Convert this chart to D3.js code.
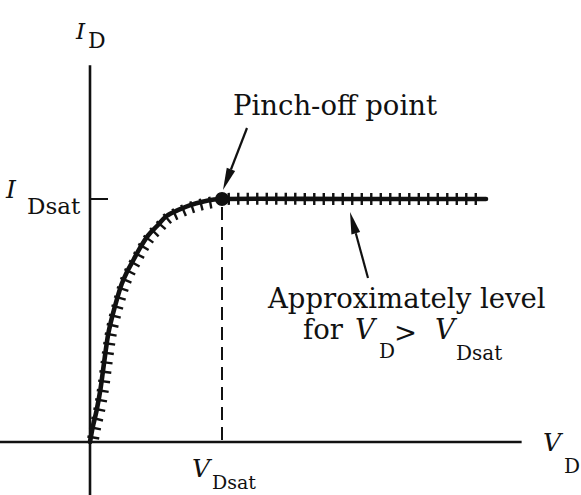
<!DOCTYPE html>
<html><head><meta charset="utf-8">
<script src="https://cdn.jsdelivr.net/npm/d3@7"></script>
<style>html,body{margin:0;padding:0;background:#fff;}svg{display:block;}</style>
</head><body>
<svg id="chart" width="581" height="495"></svg>
<script>
// Normalised drain voltage (V_D / V_Dsat) and drain current (I_D / I_Dsat)
const vD = [0, 0.02, 0.05, 0.08, 0.1, 0.12, 0.14, 0.17, 0.2, 0.24, 0.28, 0.33, 0.38, 0.44, 0.51, 0.58, 0.67, 0.76, 0.86, 0.94, 1, 2, 3];
const iD = [0, 0.06, 0.13, 0.22, 0.3, 0.38, 0.45, 0.52, 0.58, 0.65, 0.7, 0.75, 0.8, 0.85, 0.89, 0.93, 0.955, 0.975, 0.99, 0.998, 1, 1, 1];
const pinchOff = {v: 1, i: 1};
const xTickValues = [1];
const yTickValues = [1];
const xTickLabel = ["V", "Dsat"];
const yTickLabel = ["I", "Dsat"];
const xAxisLabel = ["V", "D"];
const yAxisLabel = ["I", "D"];
const note1 = "Pinch-off point";
const note2a = "Approximately level";
const note2b = ["for", "V", "D", ">", "V", "Dsat"];

const svg = d3.select("#chart");
const x = d3.scaleLinear().domain([0, 1]).range([90, 222]);
const y = d3.scaleLinear().domain([0, 1]).range([442, 199]);
const xMax = 3.27, yMax = 1.55;

const ink = "#111";
// axes
svg.append("line").attr("x1", 0).attr("x2", x(xMax)).attr("y1", y(0)).attr("y2", y(0))
  .attr("stroke", ink).attr("stroke-width", 2.6);
svg.append("line").attr("x1", x(0)).attr("x2", x(0)).attr("y1", y(yMax)).attr("y2", 495)
  .attr("stroke", ink).attr("stroke-width", 2.6);
// y tick at I_Dsat
yTickValues.forEach(t => {
  svg.append("line").attr("x1", x(0)).attr("x2", x(0) + 18).attr("y1", y(t)).attr("y2", y(t))
    .attr("stroke", ink).attr("stroke-width", 2);
});
// dashed line to V_Dsat
xTickValues.forEach(t => {
  svg.append("line").attr("x1", x(t)).attr("x2", x(t)).attr("y1", y(pinchOff.i) + 8).attr("y2", y(0))
    .attr("stroke", ink).attr("stroke-width", 2).attr("stroke-dasharray", "13,7");
});

// curve
const pts = vD.map((v, k) => [x(v), y(iD[k])]);
const line = d3.line().curve(d3.curveCatmullRom.alpha(0.5));
const path = svg.append("path").attr("d", line(pts)).attr("fill", "none")
  .attr("stroke", ink).attr("stroke-width", 4.6).attr("stroke-linejoin", "round").attr("stroke-linecap", "round");

// hatch ticks along the curve
const node = path.node();
const L = node.getTotalLength();
const step = 9.5;
const g = svg.append("g").attr("stroke", ink).attr("stroke-width", 2.4);
for (let s = 5; s < L - 1; s += step) {
  const p = node.getPointAtLength(s);
  const p2 = node.getPointAtLength(Math.min(L, s + 0.5));
  const p1 = node.getPointAtLength(Math.max(0, s - 0.5));
  let dx = p2.x - p1.x, dy = p2.y - p1.y;
  const m = Math.hypot(dx, dy) || 1; dx /= m; dy /= m;
  let nx = -dy, ny = dx;
  if (nx < 0 || (Math.abs(nx) < 1e-3 && ny < 0)) { nx = -nx; ny = -ny; }
  const flat = Math.abs(dy) < 0.1;
  const inLen = flat ? 6 : 8.5, outLen = flat ? 6 : 3.5;
  g.append("line")
    .attr("x1", p.x - nx * outLen).attr("y1", p.y - ny * outLen)
    .attr("x2", p.x + nx * inLen).attr("y2", p.y + ny * inLen);
}
// pinch-off dot
svg.append("circle").attr("cx", x(pinchOff.v)).attr("cy", y(pinchOff.i)).attr("r", 7).attr("fill", ink);

// arrows
function arrow(x1, y1, x2, y2) {
  const a = Math.atan2(y2 - y1, x2 - x1);
  const hl = 22, hw = 4.5;
  const bx = x2 - hl * Math.cos(a), by = y2 - hl * Math.sin(a);
  svg.append("line").attr("x1", x1).attr("y1", y1).attr("x2", bx).attr("y2", by)
    .attr("stroke", ink).attr("stroke-width", 2.2);
  const px = -Math.sin(a) * hw, py = Math.cos(a) * hw;
  svg.append("path").attr("d", `M${x2},${y2}L${bx + px},${by + py}L${bx - px},${by - py}Z`).attr("fill", ink);
}
arrow(247, 128, x(1) + 1, y(1) - 9);
arrow(368, 278, 350, y(1) + 13);

// text
const serif = "'DejaVu Serif', 'Liberation Serif', serif";
function label(xp, yp, parts, mainSize, subSize, subX, subDy) {
  svg.append("text").attr("x", xp).attr("y", yp).attr("font-family", serif).attr("fill", ink)
    .attr("font-style", "italic").attr("font-size", mainSize).text(parts[0]);
  svg.append("text").attr("x", subX).attr("y", yp + subDy).attr("font-family", serif).attr("fill", ink)
    .attr("font-size", subSize).text(parts[1]);
}
label(76, 39, yAxisLabel, 23, 22, 88, 9);
label(6, 198, yTickLabel, 25, 23, 27, 16);
label(192, 477, xTickLabel, 25, 19, 212, 12);
label(543, 451, xAxisLabel, 25, 20, 564, 22);

const t27 = 27.5;
svg.append("text").attr("x", 233).attr("y", 115).attr("font-family", serif).attr("font-size", t27)
  .attr("fill", ink).text(note1);
svg.append("text").attr("x", 268).attr("y", 308).attr("font-family", serif).attr("font-size", t27)
  .attr("fill", ink).text(note2a);
svg.append("text").attr("x", 303).attr("y", 339).attr("font-family", serif).attr("font-size", t27)
  .attr("fill", ink).text(note2b[0]);
svg.append("text").attr("x", 355).attr("y", 339).attr("font-family", serif).attr("font-size", t27)
  .attr("font-style", "italic").attr("fill", ink).text(note2b[1]);
svg.append("text").attr("x", 379).attr("y", 358).attr("font-family", serif).attr("font-size", 20)
  .attr("fill", ink).text(note2b[2]);
svg.append("text").attr("x", 394).attr("y", 342).attr("font-family", serif).attr("font-size", t27)
  .attr("fill", ink).text(note2b[3]);
svg.append("text").attr("x", 435).attr("y", 339).attr("font-family", serif).attr("font-size", t27)
  .attr("font-style", "italic").attr("fill", ink).text(note2b[4]);
svg.append("text").attr("x", 456).attr("y", 360).attr("font-family", serif).attr("font-size", 20)
  .attr("fill", ink).text(note2b[5]);
</script>
</body></html>
